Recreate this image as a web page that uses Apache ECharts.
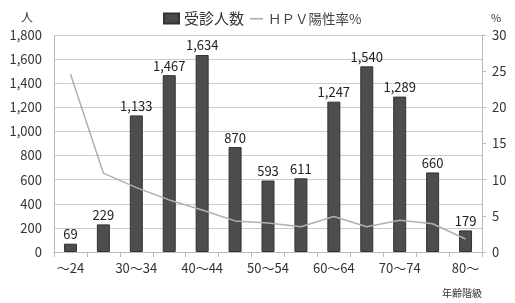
<!DOCTYPE html>
<html><head><meta charset="utf-8">
<script src="https://cdn.jsdelivr.net/npm/echarts@6/dist/echarts.min.js"></script>
<style>html,body{margin:0;padding:0;background:#fff}#c{width:515px;height:303px}</style>
</head><body><div id="c"></div>
<script>
const categories = ['～24','25～29','30～34','35～39','40～44','45～49','50～54','55～59','60～64','65～69','70～74','75～79','80～'];
const examinees = [69,229,1133,1467,1634,870,593,611,1247,1540,1289,660,179];
const hpvRate = [24.6,10.9,8.9,7.2,5.8,4.3,4.0,3.5,4.9,3.5,4.4,3.9,1.8];
const leftTicks = {min:0,max:1800,interval:200};
const rightTicks = {min:0,max:30,interval:5};

const font = '"Noto Sans CJK JP","Noto Sans",sans-serif';
const chart = echarts.init(document.getElementById('c'));
chart.setOption({
  animation:false,
  backgroundColor:'#fff',
  textStyle:{fontFamily:font},
  legend:[{
    top:6, left:158,
    textStyle:{fontSize:15,color:'#333',fontFamily:font},
    data:[{name:'受診人数',icon:'rect',itemStyle:{color:'#4a4a4a'}}],
    itemWidth:15,itemHeight:10,itemGap:4
  },{
    top:7, left:245,
    textStyle:{fontSize:13.5,color:'#444',fontFamily:font},
    data:[{name:'ＨＰＶ陽性率%',icon:'rect',itemStyle:{color:'#aaa'}}],
    itemWidth:13,itemHeight:1.5,itemGap:3
  }],
  grid:{left:54,right:33,top:35,bottom:51,containLabel:false},
  xAxis:{
    type:'category',data:categories,boundaryGap:true,
    axisLine:{lineStyle:{color:'#bbb'}},
    axisTick:{show:true,alignWithLabel:false,interval:0,length:5,lineStyle:{color:'#bbb'}},
    axisLabel:{interval:1,color:'#333',fontSize:13,margin:10,fontFamily:font},
    name:'年齢階級',nameLocation:'end',nameGap:0,
    nameTextStyle:{fontSize:10,color:'#333',align:'right',verticalAlign:'top',padding:[36,0,0,0]}
  },
  yAxis:[{
    type:'value',min:leftTicks.min,max:leftTicks.max,interval:leftTicks.interval,
    axisLine:{show:true,lineStyle:{color:'#bbb'}},
    axisTick:{show:false},
    splitLine:{lineStyle:{color:'#ccc'}},
    axisLabel:{color:'#333',fontSize:13,margin:12,
      formatter:v=>v.toLocaleString('en-US')},
    name:'人',nameLocation:'end',nameGap:12,
    nameTextStyle:{fontSize:12,color:'#333',align:'center',padding:[0,54,0,0]}
  },{
    type:'value',min:rightTicks.min,max:rightTicks.max,interval:rightTicks.interval,
    position:'right',
    axisLine:{show:true,lineStyle:{color:'#bbb'}},
    axisTick:{show:true,length:4,inside:false,lineStyle:{color:'#bbb'}},
    splitLine:{show:false},
    axisLabel:{color:'#333',fontSize:13,margin:10},
    name:'%',nameLocation:'end',nameGap:12,
    nameTextStyle:{fontSize:11,color:'#333',padding:[0,0,0,28]}
  }],
  series:[{
    name:'受診人数',type:'bar',data:examinees,barWidth:13,
    itemStyle:{color:'#4d4d4d',borderColor:'#333',borderWidth:1},
    label:{show:true,position:'top',distance:3,color:'#222',fontSize:13,
      formatter:p=>p.value.toLocaleString('en-US')}
  },{
    name:'ＨＰＶ陽性率%',type:'line',yAxisIndex:1,data:hpvRate,
    symbol:'none',smooth:false,
    lineStyle:{color:'#b0b0b0',width:1.5},itemStyle:{color:'#b0b0b0'}
  }]
});
</script></body></html>
